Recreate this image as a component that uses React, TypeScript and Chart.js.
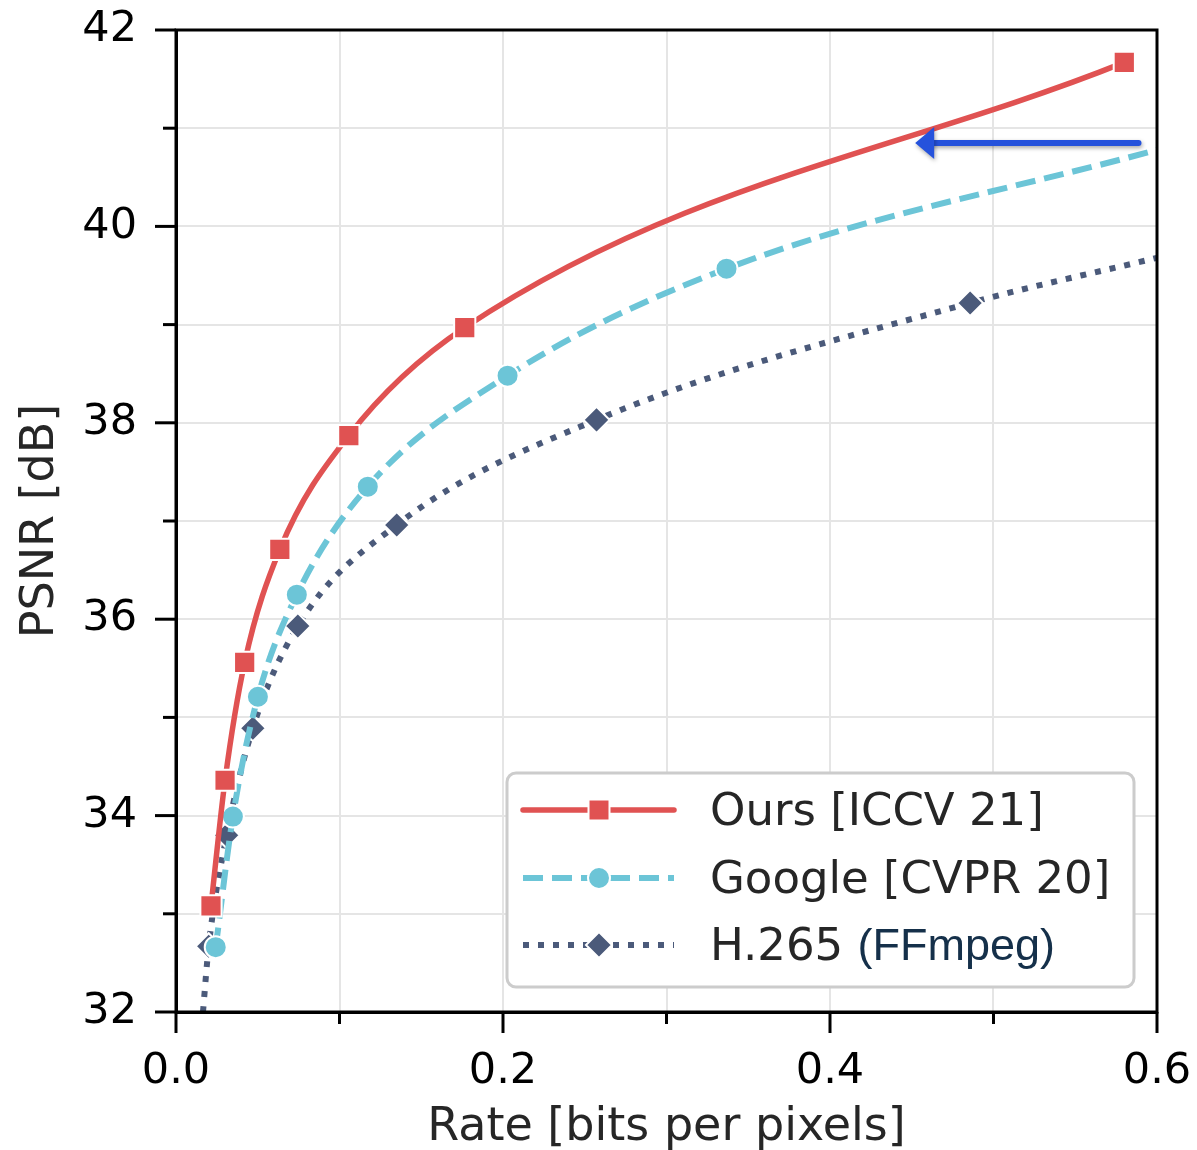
import React, { useEffect, useRef } from 'react';
import { Chart, registerables } from 'chart.js';

Chart.register(...registerables);

// ---- data ----
const oursRate = [0.0214, 0.030, 0.042, 0.0635, 0.1057, 0.1766, 0.580];
const oursPsnr = [33.08, 34.36, 35.56, 36.71, 37.87, 38.97, 41.67];
const oursMarker = [1, 1, 1, 1, 1, 1, 1];

const googleRate = [0.0243, 0.0348, 0.0501, 0.0739, 0.1173, 0.2028, 0.3367, 0.6];
const googlePsnr = [32.66, 33.99, 35.21, 36.25, 37.35, 38.48, 39.57, 40.78];
const googleMarker = [1, 1, 1, 1, 1, 1, 1, 0];

const h265Rate = [0.0165, 0.020, 0.031, 0.047, 0.0745, 0.135, 0.2572, 0.4857, 0.6];
const h265Psnr = [32.0, 32.67, 33.8, 34.89, 35.93, 36.96, 38.03, 39.22, 39.68];
const h265Marker = [0, 1, 1, 1, 1, 1, 1, 1, 0];

const seriesNames = ['Ours [ICCV 21]', 'Google [CVPR 20]', 'H.265 '];
const h265Suffix = '(FFmpeg)';

const xTickLabels = ['0.0', '0.2', '0.4', '0.6'];
const yTickLabels = ['32', '34', '36', '38', '40', '42'];

const xTitle = 'Rate [bits per pixels]';
const yTitle = 'PSNR [dB]';

// arrow annotation (data coords): tail -> tip
const arrowFrom = [0.5887, 40.85];
const arrowTo = [0.4521, 40.85];

const RED = '#e05252';
const CYAN = '#6cc5d7';
const NAVY = '#4b5a7a';
const ARROW = '#2552dc';
const FONT = '"DejaVu Sans", sans-serif';

const toPts = (xs: number[], ys: number[]) => xs.map((x, i) => ({ x, y: ys[i] }));

function drawMarker(ctx: CanvasRenderingContext2D, kind: string, x: number, y: number, color: string) {
  ctx.save();
  ctx.setLineDash([]);
  ctx.fillStyle = color;
  ctx.strokeStyle = '#ffffff';
  ctx.lineWidth = 2;
  ctx.beginPath();
  if (kind === 'rect') {
    const s = 10.5;
    ctx.rect(x - s, y - s, 2 * s, 2 * s);
  } else if (kind === 'circle') {
    ctx.arc(x, y, 11, 0, Math.PI * 2);
  } else {
    const r = 13;
    ctx.moveTo(x - r, y);
    ctx.lineTo(x, y - r);
    ctx.lineTo(x + r, y);
    ctx.lineTo(x, y + r);
    ctx.closePath();
  }
  ctx.fill();
  ctx.stroke();
  ctx.restore();
}

const decor = {
  id: 'decor',
  afterDatasetsDraw(chart: any) {
    const { ctx, chartArea: a, scales } = chart;
    const xs = scales.x;
    const ys = scales.y;
    ctx.save();

    // frame
    ctx.setLineDash([]);
    ctx.strokeStyle = '#000';
    ctx.lineWidth = 3;
    ctx.strokeRect(a.left, a.top, a.right - a.left, a.bottom - a.top);

    // tick marks (major / minor)
    ctx.lineWidth = 3;
    xs.ticks.forEach((t: any) => {
      const px = xs.getPixelForValue(t.value);
      const major = t.label !== '';
      ctx.beginPath();
      ctx.moveTo(px, a.bottom);
      ctx.lineTo(px, a.bottom + (major ? 21 : 12));
      ctx.stroke();
    });
    ys.ticks.forEach((t: any) => {
      const py = ys.getPixelForValue(t.value);
      const major = t.label !== '';
      ctx.beginPath();
      ctx.moveTo(a.left, py);
      ctx.lineTo(a.left - (major ? 21 : 13), py);
      ctx.stroke();
    });

    // arrow
    const x0 = xs.getPixelForValue(arrowFrom[0]);
    const y0 = ys.getPixelForValue(arrowFrom[1]);
    const x1 = xs.getPixelForValue(arrowTo[0]);
    const y1 = ys.getPixelForValue(arrowTo[1]);
    ctx.save();
    ctx.shadowColor = 'rgba(0,0,0,0.35)';
    ctx.shadowBlur = 4;
    ctx.shadowOffsetX = 1;
    ctx.shadowOffsetY = 2;
    ctx.strokeStyle = ARROW;
    ctx.fillStyle = ARROW;
    ctx.lineWidth = 6;
    ctx.lineCap = 'round';
    ctx.beginPath();
    ctx.moveTo(x0, y0);
    ctx.lineTo(x1 + 15, y1);
    ctx.stroke();
    ctx.beginPath();
    ctx.moveTo(x1, y1);
    ctx.lineTo(x1 + 19, y1 - 16);
    ctx.lineTo(x1 + 19, y1 + 16);
    ctx.closePath();
    ctx.fill();
    ctx.restore();

    // legend
    const bx = 507, by = 773, bw = 627, bh = 214;
    ctx.beginPath();
    (ctx as any).roundRect(bx, by, bw, bh, 9);
    ctx.fillStyle = '#ffffff';
    ctx.fill();
    ctx.strokeStyle = '#cccccc';
    ctx.lineWidth = 3;
    ctx.stroke();

    const rows = [
      { y: 810, color: RED, dash: [] as number[], w: 5.5, kind: 'rect', cap: 'round' },
      { y: 878, color: CYAN, dash: [20, 9], w: 6, kind: 'circle', cap: 'butt' },
      { y: 945, color: NAVY, dash: [6, 9], w: 6, kind: 'diamond', cap: 'butt' },
    ];
    rows.forEach((r, i) => {
      ctx.save();
      ctx.strokeStyle = r.color;
      ctx.lineWidth = r.w;
      ctx.lineCap = r.cap as CanvasLineCap;
      ctx.setLineDash(r.dash);
      ctx.beginPath();
      ctx.moveTo(523, r.y);
      ctx.lineTo(674, r.y);
      ctx.stroke();
      ctx.restore();
      drawMarker(ctx, r.kind, 599, r.y, r.color);
      ctx.font = `45px ${FONT}`;
      ctx.fillStyle = '#262626';
      ctx.textAlign = 'left';
      ctx.textBaseline = 'middle';
      ctx.fillText(seriesNames[i], 710, r.y + 3);
      if (i === 2) {
        const w = ctx.measureText(seriesNames[i]).width;
        ctx.font = '45px "Liberation Sans", Arial, sans-serif';
        ctx.fillStyle = '#15304a';
        ctx.fillText(h265Suffix, 710 + w, r.y + 3);
      }
    });

    // axis titles
    ctx.fillStyle = '#262626';
    ctx.font = `46px ${FONT}`;
    ctx.textAlign = 'center';
    ctx.textBaseline = 'middle';
    ctx.fillText(xTitle, (a.left + a.right) / 2, 1128);
    ctx.save();
    ctx.translate(41, (a.top + a.bottom) / 2);
    ctx.rotate(-Math.PI / 2);
    ctx.fillText(yTitle, 0, 0);
    ctx.restore();

    ctx.restore();
  },
};

export default function App() {
  const ref = useRef<HTMLCanvasElement>(null);
  useEffect(() => {
    const canvas = ref.current!;
    const radii = (flags: number[], r: number) => flags.map((f) => (f ? r : 0));
    const chart = new Chart(canvas, {
      type: 'scatter',
      data: {
        datasets: [
          {
            label: seriesNames[0],
            data: toPts(oursRate, oursPsnr),
            showLine: true,
            borderColor: RED,
            backgroundColor: RED,
            borderWidth: 5.5,
            cubicInterpolationMode: 'monotone',
            pointStyle: 'rect',
            pointRadius: radii(oursMarker, 15),
            pointBackgroundColor: RED,
            pointBorderColor: '#ffffff',
            pointBorderWidth: 2,
          },
          {
            label: seriesNames[1],
            data: toPts(googleRate, googlePsnr),
            showLine: true,
            borderColor: CYAN,
            backgroundColor: CYAN,
            borderWidth: 6,
            borderDash: [20, 9],
            borderCapStyle: 'butt',
            cubicInterpolationMode: 'monotone',
            pointStyle: 'circle',
            pointRadius: radii(googleMarker, 11),
            pointBackgroundColor: CYAN,
            pointBorderColor: '#ffffff',
            pointBorderWidth: 2,
          },
          {
            label: seriesNames[2] + h265Suffix,
            data: toPts(h265Rate, h265Psnr),
            showLine: true,
            borderColor: NAVY,
            backgroundColor: NAVY,
            borderWidth: 6,
            borderDash: [6, 9],
            borderCapStyle: 'butt',
            cubicInterpolationMode: 'monotone',
            pointStyle: 'rectRot',
            pointRadius: radii(h265Marker, 13),
            pointBackgroundColor: NAVY,
            pointBorderColor: '#ffffff',
            pointBorderWidth: 2,
          },
        ],
      } as any,
      options: {
        responsive: false,
        devicePixelRatio: 1,
        animation: false,
        layout: { padding: { top: 30, right: 40, left: 0, bottom: 0 } },
        plugins: { legend: { display: false }, tooltip: { enabled: false } },
        scales: {
          x: {
            type: 'linear',
            min: 0,
            max: 0.6,
            afterFit: (s: any) => {
              s.height = 138;
              s.paddingLeft = 0;
              s.paddingRight = 0;
            },
            ticks: {
              stepSize: 0.1,
              autoSkip: false,
              maxRotation: 0,
              color: '#000',
              padding: 34,
              font: { family: FONT, size: 43 },
              callback: (v: any) => xTickLabels.find((l) => Math.abs(parseFloat(l) - Number(v)) < 1e-6) ?? '',
            },
            grid: { color: '#e5e5e5', lineWidth: 2, drawTicks: false },
            border: { display: true, color: '#000', width: 3 },
          },
          y: {
            type: 'linear',
            min: 32,
            max: 42,
            afterFit: (s: any) => {
              s.width = 176;
              s.paddingTop = 0;
              s.paddingBottom = 0;
            },
            ticks: {
              stepSize: 1,
              autoSkip: false,
              color: '#000',
              padding: 39,
              font: { family: FONT, size: 43 },
              callback: (v: any) => yTickLabels.find((l) => Math.abs(parseFloat(l) - Number(v)) < 1e-6) ?? '',
            },
            grid: { color: '#e5e5e5', lineWidth: 2, drawTicks: false },
            border: { display: true, color: '#000', width: 3 },
          },
        },
      } as any,
      plugins: [decor],
    });
    return () => chart.destroy();
  }, []);
  return (
    <div style={{ position: 'absolute', left: 0, top: 0, width: 1197, height: 1150, background: '#ffffff' }}>
      <canvas ref={ref} width={1197} height={1150} style={{ display: 'block', width: 1197, height: 1150 }} />
    </div>
  );
}
